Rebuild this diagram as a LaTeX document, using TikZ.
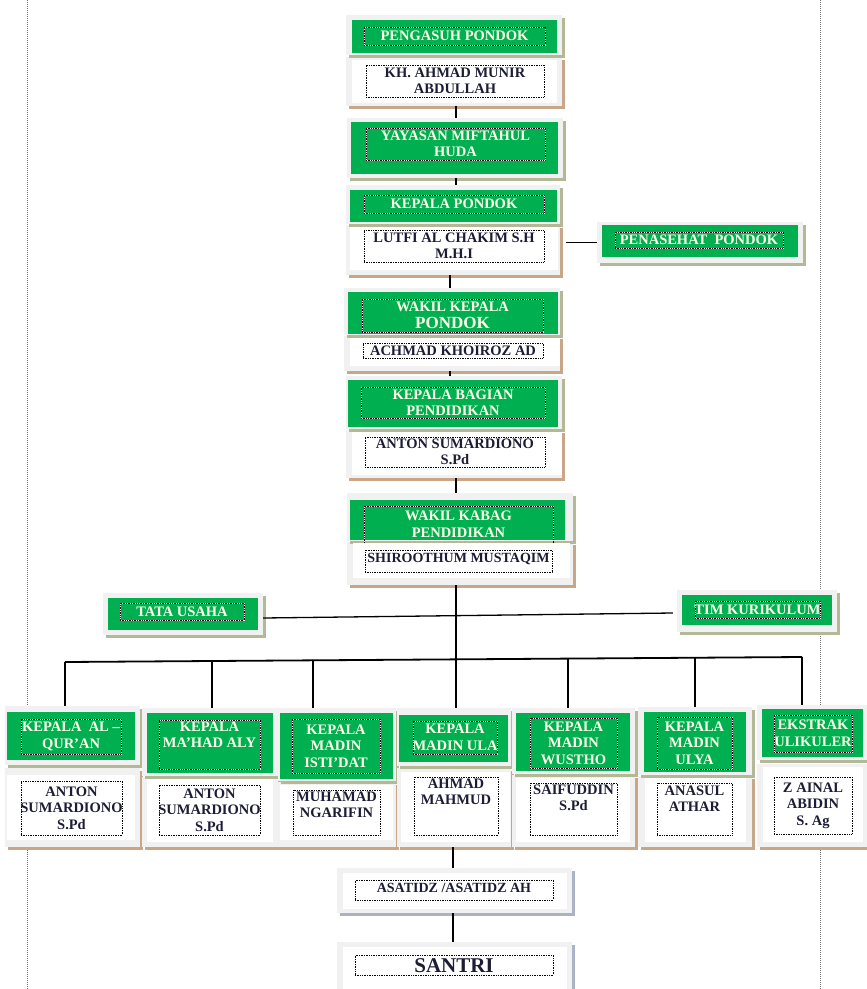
\documentclass[tikz,border=0pt]{standalone}
\usepackage{fontspec}
\setmainfont{Liberation Serif}
\usepackage{xcolor}
\usepackage{tikz}
\usetikzlibrary{fit,shadows}
\definecolor{wordgreen}{HTML}{00B050}
\definecolor{panelgrey}{HTML}{F1F1F1}
\definecolor{shadowtan}{HTML}{C9A687}
\definecolor{shadowolive}{HTML}{B4B897}
\definecolor{shadowblue}{HTML}{A9B3C3}
\definecolor{titletxt}{HTML}{FFFFEC}
\definecolor{nametxt}{HTML}{1C1C36}

\begin{document}
\begin{tikzpicture}[x=1pt,y=-1pt,
    panel/.style={fill=panelgrey, inner sep=0pt,
      drop shadow={shadow xshift=3pt, shadow yshift=-3pt, fill=#1, opacity=1}},
    panel/.default=shadowtan,
    head/.style={fill=wordgreen, inner sep=0pt},
    namebg/.style={fill=white, inner sep=0pt},
    tframe/.style={draw=black, densely dotted, line width=0.7pt,
      preaction={draw=white, solid}, inner sep=0pt},
    nframe/.style={draw=black, densely dotted, line width=0.7pt, fill=white,
      inner sep=0pt},
    ttext/.style={inner sep=0pt, text=titletxt,
      font=\bfseries\fontsize{14.5}{16.5}\selectfont, align=center},
    ntext/.style={inner sep=0pt, text=nametxt,
      font=\bfseries\fontsize{14.5}{16.5}\selectfont, align=center},
    link/.style={line width=1.3pt},
    bus/.style={line width=1.8pt},
    guide/.style={densely dotted, line width=1pt, black!55}]
  \useasboundingbox (0,0) rectangle (867,989);

  % page guides
  \draw[guide] (27,0) -- (27,989);
  \draw[guide] (820,0) -- (820,989);

  % pengasuh pondok
  \node[panel, fit={(346,57) (562,106)}] (pengasuh-l) {};
  \node[panel=shadowolive, fit={(346,15) (562,55)}] (pengasuh) {};
  \node[head, fit={(352,20) (557,53)}] (pengasuh-h) {};
  \node[tframe, fit={(364,27) (545,45)}] (pengasuh-t) {};
  \node[ttext] (pengasuh-tt) at (pengasuh-t.center) {PENGASUH PONDOK};
  \node[namebg, fit={(352,60) (557,103)}] (pengasuh-w) {};
  \node[nframe, fit={(366,65) (544,97)}] (pengasuh-n) {};
  \node[ntext] (pengasuh-nt) at (pengasuh-n.center) {KH. AHMAD MUNIR\\ABDULLAH};

  % yayasan
  \node[panel=shadowolive, fit={(347,118) (563,178)}] (yayasan) {};
  \node[head, fit={(351,122) (558,174)}] (yayasan-h) {};
  \node[tframe, fit={(366,128) (545,160)}] (yayasan-t) {};
  \node[ttext] (yayasan-tt) at (yayasan-t.center) {YAYASAN MIFTAHUL\\HUDA};

  % kepala pondok
  \node[panel, fit={(346,225) (560,275)}] (kepala-l) {};
  \node[panel=shadowolive, fit={(346,185) (560,224)}] (kepala) {};
  \node[head, fit={(350,190) (557,222)}] (kepala-h) {};
  \node[tframe, fit={(364,195) (544,213)}] (kepala-t) {};
  \node[ttext] (kepala-tt) at (kepala-t.center) {KEPALA PONDOK};
  \node[namebg, fit={(350,227) (558,270)}] (kepala-w) {};
  \node[nframe, fit={(364,230) (544,262)}] (kepala-n) {};
  \node[ntext] (kepala-nt) at (kepala-n.center) {LUTFI AL CHAKIM S.H\\M.H.I};

  % penasehat
  \node[panel=shadowolive, fit={(597,222) (803,263)}] (penasehat) {};
  \node[head, fit={(602,225) (798,257)}] (penasehat-h) {};
  \node[tframe, fit={(615,232) (783,248)}] (penasehat-t) {};
  \node[ttext] (penasehat-tt) at (penasehat-t.center) {PENASEHAT\ \ PONDOK};

  % wakil kepala
  \node[panel, fit={(344,336) (560,371)}] (wakil-l) {};
  \node[panel=shadowolive, fit={(344,288) (560,335)}] (wakil) {};
  \node[head, fit={(348,292) (558,334)}] (wakil-h) {};
  \node[tframe, fit={(362,299) (543,332)}] (wakil-t) {};
  \node[ttext] (wakil-tt) at (wakil-t.center) {WAKIL KEPALA\\{\fontsize{17}{18}\selectfont PONDOK}};
  \node[namebg, fit={(350,338) (560,366)}] (wakil-w) {};
  \node[nframe, fit={(363,343) (543,358)}] (wakil-n) {};
  \node[ntext] (wakil-nt) at (wakil-n.center) {ACHMAD KHOIROZ AD};

  % kabag pendidikan
  \node[panel, fit={(346,430) (562,478)}] (kabag-l) {};
  \node[panel=shadowolive, fit={(346,376) (562,429)}] (kabag) {};
  \node[head, fit={(348,380) (558,427)}] (kabag-h) {};
  \node[tframe, fit={(361,387) (545,418)}] (kabag-t) {};
  \node[ttext] (kabag-tt) at (kabag-t.center) {KEPALA BAGIAN\\PENDIDIKAN};
  \node[namebg, fit={(352,432) (562,475)}] (kabag-w) {};
  \node[nframe, fit={(365,437) (545,467)}] (kabag-n) {};
  \node[ntext] (kabag-nt) at (kabag-n.center) {ANTON SUMARDIONO\\S.Pd};

  % wakil kabag
  \node[panel, fit={(347,542) (573,585)}] (wakabag-l) {};
  \node[panel=shadowolive, fit={(347,493) (573,541)}] (wakabag) {};
  \node[head, fit={(350,500) (565,540)}] (wakabag-h) {};
  \node[tframe, fit={(364,506) (553,546)}] (wakabag-t) {};
  \node[ttext] (wakabag-tt) at ([yshift=2pt]wakabag-t.center) {WAKIL KABAG\\PENDIDIKAN};
  \node[namebg, fit={(353,543) (570,578)}] (wakabag-w) {};
  \node[nframe, fit={(365,550) (552,572)}] (wakabag-n) {};
  \node[ntext, font=\bfseries\fontsize{14}{16}\selectfont] (wakabag-nt) at ([yshift=2pt]wakabag-n.center) {SHIROOTHUM MUSTAQIM};

  % tata usaha, tim kurikulum
  \node[panel=shadowolive, fit={(103,593) (263,635)}] (tata) {};
  \node[head, fit={(108,598) (258,630)}] (tata-h) {};
  \node[tframe, fit={(120,603) (244,620)}] (tata-t) {};
  \node[ttext] (tata-tt) at (tata-t.center) {TATA USAHA};
  \node[panel=shadowolive, fit={(677,590) (837,632)}] (tim) {};
  \node[head, fit={(682,595) (832,625)}] (tim-h) {};
  \node[tframe, fit={(695,601) (820,618)}] (tim-t) {};
  \node[ttext] (tim-tt) at (tim-t.center) {TIM KURIKULUM};

  % kepala al-qur'an
  \node[panel, fit={(5,768) (140,847)}] (quran-l) {};
  \node[panel=shadowolive, fit={(5,706) (140,765)}] (quran) {};
  \node[head, fit={(7,712) (135,760)}] (quran-h) {};
  \node[tframe, fit={(21,719) (121,754)}] (quran-t) {};
  \node[ttext] (quran-tt) at (quran-t.center) {KEPALA\ \ AL --\\QUR’AN};
  \node[namebg, fit={(7,775) (135,840)}] (quran-w) {};
  \node[nframe, fit={(21,781) (122,835)}] (quran-n) {};
  \node[ntext] (quran-nt) at (quran-n.center) {ANTON\\SUMARDIONO\\S.Pd};

  % kepala ma'had aly
  \node[panel, fit={(142,777) (278,847)}] (mahad-l) {};
  \node[panel=shadowolive, fit={(142,708) (278,776)}] (mahad) {};
  \node[head, fit={(147,713) (273,773)}] (mahad-h) {};
  \node[tframe, fit={(159,720) (260,769)}] (mahad-t) {};
  \node[ttext, anchor=north] (mahad-tt) at ([yshift=-2pt]mahad-t.north) {KEPALA\\MA’HAD ALY};
  \node[namebg, fit={(147,779) (273,842)}] (mahad-w) {};
  \node[nframe, fit={(159,785) (260,835)}] (mahad-n) {};
  \node[ntext] (mahad-nt) at (mahad-n.center) {ANTON\\SUMARDIONO\\S.Pd};

  % kepala madin isti'dat
  \node[panel, fit={(278,782) (396,847)}] (istidat-l) {};
  \node[panel=shadowolive, fit={(278,708) (396,781)}] (istidat) {};
  \node[head, fit={(280,713) (393,779)}] (istidat-h) {};
  \node[tframe, fit={(292,719) (380,773)}] (istidat-t) {};
  \node[ttext] (istidat-tt) at (istidat-t.center) {KEPALA\\MADIN\\ISTI’DAT};
  \node[namebg, fit={(280,785) (393,840)}] (istidat-w) {};
  \node[nframe, fit={(293,790) (380,835)}] (istidat-n) {};
  \node[ntext, anchor=north] (istidat-nt) at ([yshift=-2pt]istidat-n.north) {MUHAMAD\\NGARIFIN};

  % kepala madin ula
  \node[panel, fit={(397,768) (511,847)}] (ula-l) {};
  \node[panel=shadowolive, fit={(397,708) (511,766)}] (ula) {};
  \node[head, fit={(399,715) (508,762)}] (ula-h) {};
  \node[tframe, fit={(413,721) (497,754)}] (ula-t) {};
  \node[ttext] (ula-tt) at (ula-t.center) {KEPALA\\MADIN ULA};
  \node[namebg, fit={(401,772) (510,842)}] (ula-w) {};
  \node[nframe, fit={(414,777) (498,835)}] (ula-n) {};
  \node[ntext, anchor=north] (ula-nt) at ([yshift=-2pt]ula-n.north) {AHMAD\\MAHMUD};

  % kepala madin wustho
  \node[panel, fit={(512,775) (635,847)}] (wustho-l) {};
  \node[panel=shadowolive, fit={(512,708) (635,774)}] (wustho) {};
  \node[head, fit={(516,713) (630,771)}] (wustho-h) {};
  \node[tframe, fit={(530,718) (617,768)}] (wustho-t) {};
  \node[ttext] (wustho-tt) at (wustho-t.center) {KEPALA\\MADIN\\WUSTHO};
  \node[namebg, fit={(516,778) (630,842)}] (wustho-w) {};
  \node[nframe, fit={(530,783) (617,835)}] (wustho-n) {};
  \node[ntext, anchor=north] (wustho-nt) at ([yshift=-2pt]wustho-n.north) {SAIFUDDIN\\S.Pd};

  % kepala madin ulya
  \node[panel, fit={(638,776) (752,847)}] (ulya-l) {};
  \node[panel=shadowolive, fit={(638,707) (752,775)}] (ulya) {};
  \node[head, fit={(644,712) (746,772)}] (ulya-h) {};
  \node[tframe, fit={(657,717) (732,769)}] (ulya-t) {};
  \node[ttext] (ulya-tt) at (ulya-t.center) {KEPALA\\MADIN\\ULYA};
  \node[namebg, fit={(645,778) (746,842)}] (ulya-w) {};
  \node[nframe, fit={(657,783) (732,835)}] (ulya-n) {};
  \node[ntext, anchor=north] (ulya-nt) at ([yshift=-3pt]ulya-n.north) {ANASUL\\ATHAR};

  % ekstrakulikuler
  \node[panel, fit={(757,764) (867,847)}] (ekstra-l) {};
  \node[panel=shadowolive, fit={(757,705) (867,760)}] (ekstra) {};
  \node[head, fit={(762,709) (863,757)}] (ekstra-h) {};
  \node[tframe, fit={(774,715) (852,752)}] (ekstra-t) {};
  \node[ttext] (ekstra-tt) at (ekstra-t.center) {EKSTRAK\\ULIKULER};
  \node[namebg, fit={(763,767) (863,842)}] (ekstra-w) {};
  \node[nframe, fit={(774,777) (852,834)}] (ekstra-n) {};
  \node[ntext] (ekstra-nt) at (ekstra-n.center) {Z AINAL\\ABIDIN\\S. Ag};

  % asatidz, santri
  \node[panel=shadowblue, fit={(337,868) (572,913)}] (asatidz) {};
  \node[namebg, fit={(343,873) (567,909)}] (asatidz-w) {};
  \node[nframe, fit={(355,880) (553,900)}] (asatidz-n) {};
  \node[ntext, font=\bfseries\fontsize{14}{16}\selectfont] (asatidz-nt) at ([yshift=2pt]asatidz-n.center) {ASATIDZ /ASATIDZ AH};
  \node[panel=shadowblue, fit={(337,942) (572,995)}] (santri) {};
  \node[namebg, fit={(343,947) (567,995)}] (santri-w) {};
  \node[nframe, fit={(355,955) (553,975)}] (santri-n) {};
  \node[ntext, font=\bfseries\fontsize{21}{22}\selectfont] (santri-nt) at ([yshift=-1pt]santri-n.center) {SANTRI};

  % connectors
  \coordinate (spine) at (456,0);
  \coordinate (spinel) at (450,0);
  \coordinate (spinea) at (453,0);
  \coordinate (b1) at (65,662);
  \coordinate (b2) at (212,661);
  \coordinate (b3) at (313,660.3);
  \coordinate (b4) at (456,659.3);
  \coordinate (b5) at (568,658.6);
  \coordinate (b6) at (695,657.7);
  \coordinate (b7) at (802,657);
  \draw[link] (pengasuh-l.south -| spine) -- (yayasan.north -| spine);
  \draw[link] (yayasan.south -| spine) -- (kepala.north -| spine);
  \draw[link] (kepala-l.south -| spinel) -- (wakil.north -| spinel);
  \draw[link] (wakil-l.south -| spinel) -- (kabag.north -| spinel);
  \draw[link] (kabag-l.south -| spine) -- (wakabag.north -| spine);
  \draw[link] (wakabag-l.south -| spine) -- (b4);
  \draw[link] ([xshift=6pt]kepala-l.east |- penasehat.west) -- (penasehat.west);
  \draw[link] ([yshift=-4pt]tata.east) -- ([yshift=-2pt,xshift=-4pt]tim.west);
  \draw[bus] (b1) -- (b7);
  \draw[link] (b1) -- (b1 |- quran.north);
  \draw[link] (b2) -- (b2 |- mahad.north);
  \draw[link] (b3) -- (b3 |- istidat.north);
  \draw[link] (b4) -- (b4 |- ula.north);
  \draw[link] (b5) -- (b5 |- wustho.north);
  \draw[link] (b6) -- (b6 |- ulya.north);
  \draw[link] (b7) -- (b7 |- ekstra.north);
  \draw[link] (ula-l.south -| spinea) -- (asatidz.north -| spinea);
  \draw[link] (asatidz.south -| spinea) -- (santri.north -| spinea);
\end{tikzpicture}
\end{document}
